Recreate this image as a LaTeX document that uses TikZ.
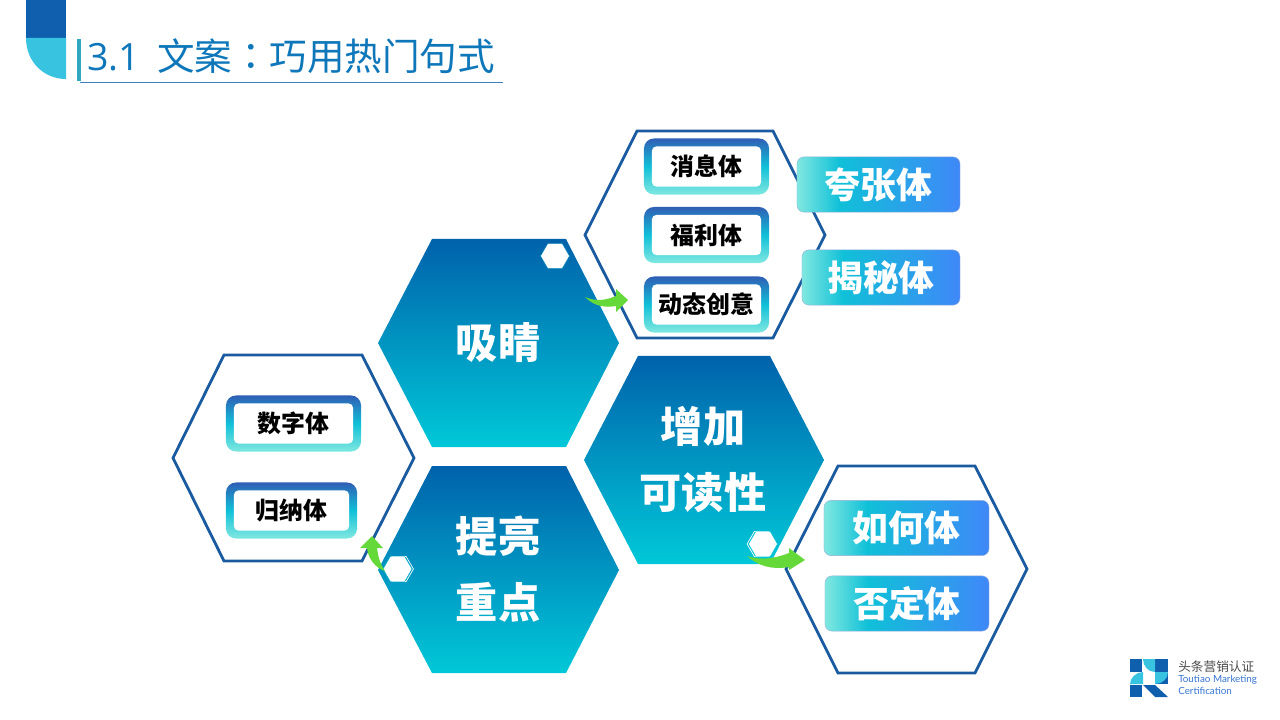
\documentclass[tikz,border=0pt]{standalone}
\usepackage{fontspec}
\setmainfont{Noto Sans CJK SC}
\newfontfamily\latinfont{Lato}
\newfontfamily\titlefont{Open Sans}
\newfontfamily\colonfont{Noto Sans CJK TC}
\usetikzlibrary{shapes.geometric}
\definecolor{hexdark}{HTML}{0062AB}
\definecolor{hexmid}{HTML}{0098CB}
\definecolor{hexlight}{HTML}{00C8D8}
\definecolor{hexline}{HTML}{1A5A9F}
\definecolor{headdark}{HTML}{0F5FAE}
\definecolor{headlight}{HTML}{38C4E0}
\definecolor{tagblue}{HTML}{2F5FB5}
\definecolor{tagmid}{HTML}{10C0D8}
\definecolor{tagpale}{HTML}{80E8E0}
\definecolor{tagright}{HTML}{3F88F8}
\definecolor{arrowgreen}{HTML}{66D93A}
\pgfdeclarehorizontalshading{tagshade}{100bp}{color(0bp)=(tagpale); color(25bp)=(tagpale); color(38bp)=(tagmid); color(75bp)=(tagright); color(100bp)=(tagright)}
\tikzset{
  bighex/.style={top color=hexdark,middle color=hexmid,bottom color=hexlight,draw=none},
  linehex/.style={draw=hexline,line width=2pt,line join=miter},
  hexlabel/.style={text=white,font=\fontsize{30}{47}\selectfont\bfseries,align=center},
  tagframe/.style={rounded corners=7pt,top color=tagblue,bottom color=tagpale,middle color=tagmid,minimum height=1.4cm},
  taginner/.style={rounded corners=3pt,fill=white,text=black,font=\fontsize{17}{17}\selectfont\bfseries,minimum height=1cm},
  tagfill/.style={rounded corners=5pt,shading=tagshade,draw=tagblue!50,line width=0.3pt,text=white,font=\fontsize{25.5}{25.5}\selectfont\bfseries,minimum height=1.38cm,inner sep=0pt},
  smallhex/.style={regular polygon,regular polygon sides=6,fill=white,minimum size=0.72cm,inner sep=0pt},
  greenarrow/.style={fill=arrowgreen,draw=none}
}
\begin{document}
\begin{tikzpicture}[x=0.025cm,y=-0.025cm]
\useasboundingbox (0,0) rectangle (1280,720);

% header
\fill[headdark] (26,0) rectangle (66,38);
\fill[headlight] (26,38) -- (66,38) -- (66,79) .. controls (44,79) and (26,62) .. (26,38) -- cycle;
\fill[headlight!85!black] (77,39) rectangle (81,81);
\draw[color=headdark!80,line width=0.7pt] (80,82) -- (503,82);
\node[anchor=west,inner sep=0pt,text=headdark!85!cyan,font=\fontsize{26.7}{27}\selectfont] (title) at (87,56) {{\titlefont 3.1}\hspace{12pt}文案{\colonfont ：}巧用热门句式};

% big hexagons
\shade[bighex] (378,343) -- (432,239) -- (566,239) -- (619,343) -- (566,447) -- (432,447) -- cycle;
\shade[bighex] (584,460) -- (638,356) -- (770,356) -- (824,460) -- (770,564) -- (638,564) -- cycle;
\shade[bighex] (378,570) -- (432,466) -- (566,466) -- (619,570) -- (566,673) -- (432,673) -- cycle;
\node[hexlabel] (xijing) at (498,343) {吸睛};
\node[hexlabel] (zengjia) at (703,460) {增加\\可读性};
\node[hexlabel] (tiliang) at (498,569) {提亮\\重点};

% outlined hexagons
\draw[linehex] (585,235) -- (637,131) -- (773,131) -- (825,235) -- (773,338) -- (637,338) -- cycle;
\draw[linehex] (173,458) -- (224,355) -- (362,355) -- (414,458) -- (362,561) -- (224,561) -- cycle;
\draw[linehex] (786,569) -- (838,466) -- (975,466) -- (1027,569) -- (975,673) -- (838,673) -- cycle;

% small white hexagons
\node[smallhex,draw=hexdark!60!hexlight,line width=0.3pt] (dotone) at (555,256) {};
\node[smallhex,draw=white,fill=none,line width=0.5pt] (dottwoback) at (399,569) {};
\node[smallhex,draw=hexlight!80!hexdark,line width=0.3pt] (dottwo) at (397.5,569) {};
\node[smallhex,draw=white,fill=none,line width=0.5pt] (dotthreeback) at (761.5,544) {};
\node[smallhex,draw=hexlight,line width=0.3pt] (dotthree) at (763,544) {};

% framed tags
\node[tagframe,minimum width=3.125cm] (xiaoxi) at (706.5,166.5) {};
\node[taginner,minimum width=2.725cm] (xiaoxitext) at (xiaoxi) {消息体};
\node[tagframe,minimum width=3.125cm] (fuli) at (706.5,235) {};
\node[taginner,minimum width=2.725cm] (fulitext) at (fuli) {福利体};
\node[tagframe,minimum width=3.125cm] (dongtai) at (706.5,304.5) {};
\node[taginner,minimum width=2.725cm] (dongtaitext) at (dongtai) {动态创意};
\node[tagframe,minimum width=3.375cm] (shuzi) at (293.5,423.5) {};
\node[taginner,minimum width=2.975cm] (shuzitext) at (shuzi) {数字体};
\node[tagframe,minimum width=3.275cm] (guina) at (291.5,510.5) {};
\node[taginner,minimum width=2.875cm] (guinatext) at (guina) {归纳体};

% filled tags
\node[tagfill,minimum width=4.075cm] (kuazhang) at (878.5,184.5) {夸张体};
\node[tagfill,minimum width=3.95cm] (jiemi) at (881,277.5) {揭秘体};
\node[tagfill,minimum width=4.125cm] (ruhe) at (906.5,528) {如何体};
\node[tagfill,minimum width=4.1cm] (fouding) at (907,603.5) {否定体};

% green arrows
\fill[greenarrow] (585,297) .. controls (597,302) and (606,300) .. (616,296) -- (616,289) -- (628,300) -- (616,312) -- (616,306) .. controls (604,308) and (594,306) .. (585,297) -- cycle;
\fill[greenarrow] (747,556) .. controls (762,561) and (776,558) .. (789,553) -- (789,548) -- (805,560) -- (789,570) -- (789,567) .. controls (772,570) and (758,566) .. (747,556) -- cycle;
\fill[greenarrow] (385,571) .. controls (380,564) and (378,556) .. (377,548) -- (383,548) -- (372,536) -- (360,548) -- (367,548) .. controls (368,558) and (375,568) .. (385,571) -- cycle;

% logo
\fill[headdark] (1130,659) rectangle (1142,672);
\fill[headdark] (1155,659) rectangle (1168,684);
\fill[headlight] (1143,659) -- (1155,659) -- (1155,672) .. controls (1148,672) and (1143,666) .. (1143,659) -- cycle;
\fill[headlight] (1130,684) .. controls (1130,678) and (1136,672) .. (1143,672) -- (1143,684) -- cycle;
\fill[headlight] (1155,672) -- (1168,672) .. controls (1168,679) and (1162,684) .. (1155,684) -- cycle;
\fill[headdark] (1130,685) rectangle (1142,697);
\fill[headdark] (1143,685) -- (1155,685) -- (1168,697) -- (1155,697) -- (1143,685) -- cycle;
\node[anchor=west,inner sep=0pt,text=black!70,font=\fontsize{9}{9}\selectfont] (logocn) at (1178,667) {头条营销认证};
\node[anchor=north west,inner sep=0pt,text=tagright!85!black,align=left,font=\latinfont\fontsize{7}{8.5}\selectfont] (logoen) at (1178,675) {Toutiao Marketing\\Certification};
\end{tikzpicture}
\end{document}
